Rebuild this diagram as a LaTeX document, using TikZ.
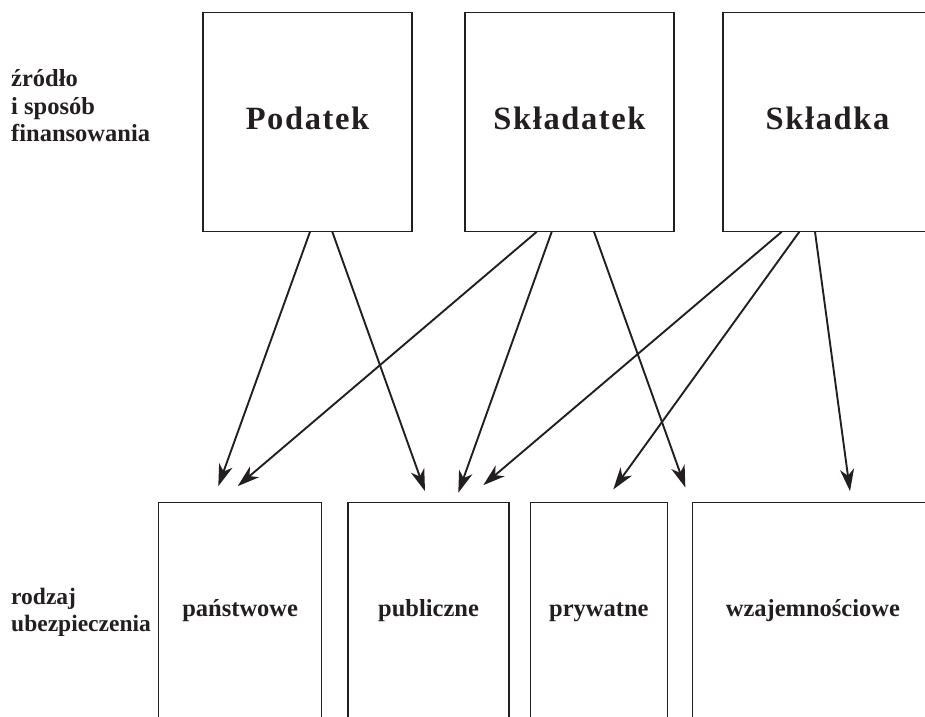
\documentclass[tikz,border=0pt]{standalone}
\usepackage{fontspec}
\setmainfont{Liberation Serif}
\newfontfamily\headfont[LetterSpace=5.0]{Liberation Serif}
\usetikzlibrary{arrows.meta}

\definecolor{ink}{HTML}{231F20}

\tikzset{
  srcbox/.style={draw=ink, line width=1.1pt, minimum width=209pt, minimum height=218.5pt, inner sep=0pt},
  kindbox/.style={draw=ink, line width=1.1pt, minimum height=216pt, inner sep=0pt},
  headtxt/.style={anchor=base, inner sep=0pt, text=ink, font=\headfont\bfseries\fontsize{32.5}{32.5}\selectfont},
  kindtxt/.style={anchor=base, inner sep=0pt, text=ink, font=\bfseries\fontsize{24.5}{24.5}\selectfont},
  sidetxt/.style={anchor=base west, inner sep=0pt, text=ink, align=left, font=\bfseries\fontsize{24.5}{27.5}\selectfont},
  flow/.style={draw=ink, line width=1.9pt, -{Stealth[length=22pt, width=14pt, inset=6.5pt]}}
}

\begin{document}
\begin{tikzpicture}[x=1pt, y=-1pt]
  \clip (0,0) rectangle (925,716);
  \fill[white] (0,0) rectangle (925,716);

  % sources of financing
  \node[srcbox] (pod) at (307.5,122) {};
  \node[srcbox] (skt) at (569.5,122) {};
  \node[srcbox] (ska) at (827.5,122) {};
  \node[headtxt] (podT) at ([yshift=-7.3pt]pod.center) {Podatek};
  \node[headtxt] (sktT) at ([yshift=-7.3pt]skt.center) {Składatek};
  \node[headtxt] (skaT) at ([yshift=-7.3pt]ska.center) {Składka};

  % kinds of insurance
  \node[kindbox, minimum width=163pt] (pan) at (240.2,610.3) {};
  \node[kindbox, minimum width=161pt] (pub) at (428.5,610.3) {};
  \node[kindbox, minimum width=137.7pt] (pry) at (598.9,610.3) {};
  \node[kindbox, minimum width=240pt] (wza) at (812.9,610.3) {};
  \node[kindtxt] (panT) at ([yshift=-6.4pt]pan.center) {państwowe};
  \node[kindtxt] (pubT) at ([yshift=-6.4pt]pub.center) {publiczne};
  \node[kindtxt] (pryT) at ([yshift=-6.4pt]pry.center) {prywatne};
  \node[kindtxt] (wzaT) at ([yshift=-6.4pt]wza.center) {wzajemnościowe};

  % row captions (anchored at the baseline of the last line)
  \node[sidetxt] (cap1) at (11,141.7) {źródło\\i sposób\\finansowania};
  \node[sidetxt, font=\bfseries\fontsize{23.5}{27}\selectfont] (cap2) at (11,631) {rodzaj\\ubezpieczenia};

  % arrow tips above the lower boxes
  \coordinate (tA) at ([xshift=-21.9pt, yshift=15.6pt]pan.north);
  \coordinate (tC) at ([xshift=-2.5pt, yshift=15.6pt]pan.north);
  \coordinate (tB) at ([xshift=-3.5pt, yshift=10.6pt]pub.north);
  \coordinate (tD) at ([xshift=29.8pt, yshift=9pt]pub.north);
  \coordinate (tF) at ([xshift=54.8pt, yshift=16.6pt]pub.north);
  \coordinate (tG) at ([xshift=14.4pt, yshift=12.3pt]pry.north);
  \coordinate (tE) at ([xshift=-7pt, yshift=14.3pt]wza.north west);
  \coordinate (tH) at ([xshift=37.1pt, yshift=10.6pt]wza.north);

  % flows
  \draw[flow] ([xshift=2.5pt]pod.south) -- (tA);
  \draw[flow] ([xshift=24.8pt]pod.south) -- (tB);
  \draw[flow] ([xshift=-32.8pt]skt.south) -- (tC);
  \draw[flow] ([xshift=-17.8pt]skt.south) -- (tD);
  \draw[flow] ([xshift=24.5pt]skt.south) -- (tE);
  \draw[flow] ([xshift=-45.8pt]ska.south) -- (tF);
  \draw[flow] ([xshift=-28.2pt]ska.south) -- (tG);
  \draw[flow] ([xshift=-12.5pt]ska.south) -- (tH);
\end{tikzpicture}
\end{document}
